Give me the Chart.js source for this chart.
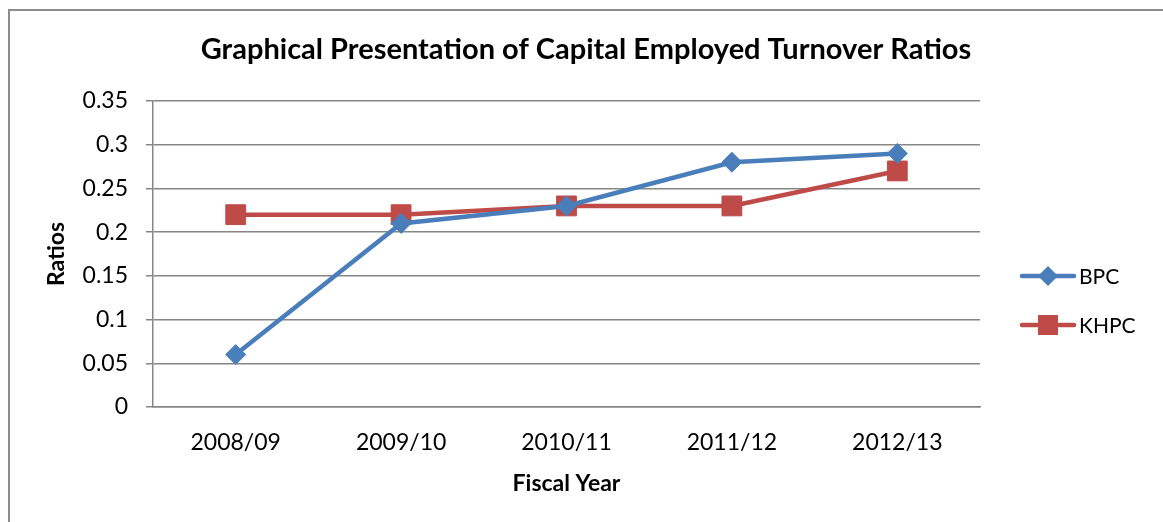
<!DOCTYPE html>
<html>
<head>
<meta charset="utf-8">
<script src="https://cdn.jsdelivr.net/npm/chart.js@4.4.0/dist/chart.umd.min.js"></script>
<style>
  html, body { margin: 0; padding: 0; background: #fff; overflow: hidden; }
  #wrap { position: relative; width: 1163px; height: 522px; }
  #frame { position: absolute; left: 8px; top: 9px; width: 1200px; height: 600px; border: 2px solid #8c8c8c; box-sizing: border-box; }
  canvas { position: absolute; left: 0; top: 0; }
</style>
</head>
<body>
<div id="wrap">
  <div id="frame"></div>
  <canvas id="grafico" width="1163" height="522"></canvas>
</div>
<script>
var titolo = 'Graphical Presentation of Capital Employed Turnover Ratios';
var anni = ['2008/09', '2009/10', '2010/11', '2011/12', '2012/13'];
var bpc = [0.06, 0.21, 0.23, 0.28, 0.29];
var khpc = [0.22, 0.22, 0.23, 0.23, 0.27];
var yTicks = ['0', '0.05', '0.1', '0.15', '0.2', '0.25', '0.3', '0.35'];

var font = 'Lato, "Open Sans", sans-serif';
var blu = '#4A7EBB';
var rosso = '#BE4B48';

// titolo e legenda disegnati a mano, come in Excel
var extra = {
	id: 'extra',
	afterDraw: function(chart) {
		var ctx = chart.ctx;
		ctx.save();
		ctx.fillStyle = '#000';
		ctx.font = 'bold 29px ' + font;
		ctx.textAlign = 'center';
		ctx.textBaseline = 'middle';
		ctx.fillText(titolo, 586, 50);

		var ys = [276, 325];
		chart.data.datasets.forEach(function(ds, i) {
			var y = ys[i];
			ctx.strokeStyle = ds.borderColor;
			ctx.lineWidth = 4.5;
			ctx.lineCap = 'round';
			ctx.beginPath();
			ctx.moveTo(1022, y);
			ctx.lineTo(1074, y);
			ctx.stroke();
			ctx.fillStyle = ds.borderColor;
			ctx.beginPath();
			if (ds.pointStyle == 'rectRot') {
				ctx.moveTo(1048 - 10, y);
				ctx.lineTo(1048, y - 10);
				ctx.lineTo(1048 + 10, y);
				ctx.lineTo(1048, y + 10);
				ctx.closePath();
			} else {
				ctx.rect(1038, y - 10, 20, 20);
			}
			ctx.fill();
			ctx.fillStyle = '#000';
			ctx.font = '21px ' + font;
			ctx.textAlign = 'left';
			ctx.fillText(ds.label, 1079, y + 1);
		});
		ctx.restore();
	}
};

var ctx = document.getElementById('grafico').getContext('2d');
var myLineChart = new Chart(ctx, {
	type : 'line',
	data : {
		labels : anni,
		datasets : [ {
			label : 'BPC',
			data : bpc,
			borderColor : blu,
			backgroundColor : blu,
			borderWidth : 4.5,
			pointStyle : 'rectRot',
			pointRadius : 10,
			pointBorderWidth : 1,
			tension : 0
		}, {
			label : 'KHPC',
			data : khpc,
			borderColor : rosso,
			backgroundColor : rosso,
			borderWidth : 4.5,
			pointStyle : 'rect',
			pointRadius : 14,
			pointBorderWidth : 1,
			tension : 0
		} ]
	},
	options : {
		responsive : false,
		animation : false,
		layout : { padding : { left : 0, right : 183, top : 101, bottom : 0 } },
		plugins : {
			legend : { display : false },
			title : { display : false },
			tooltip : { enabled : false }
		},
		scales : {
			x : {
				offset : true,
				grid : { display : false, drawTicks : false },
				border : { display : true, color : '#868686', width : 1.5 },
				ticks : { color : '#000', font : { family : font, size : 23 }, padding : 22 },
				title : { display : true, text : 'Fiscal Year', color : '#000',
					font : { family : font, size : 23, weight : 'bold' }, padding : { top : 0, bottom : 25 } },
				afterFit : function(s) { s.height = 115; }
			},
			y : {
				min : 0,
				max : 0.35,
				ticks : {
					stepSize : 0.05,
					color : '#000',
					font : { family : font, size : 23 },
					padding : 18,
					callback : function(v, i) { return yTicks[i]; }
				},
				grid : { color : '#868686', lineWidth : 1.5, tickLength : 7 },
				border : { display : true, color : '#868686', width : 1.5 },
				title : { display : true, text : 'Ratios', color : '#000',
					font : { family : font, size : 23, weight : 'bold' }, padding : { top : 43, bottom : 0 } },
				afterFit : function(s) { s.width = 153; }
			}
		}
	},
	plugins : [ extra ]
});
</script>
</body>
</html>
